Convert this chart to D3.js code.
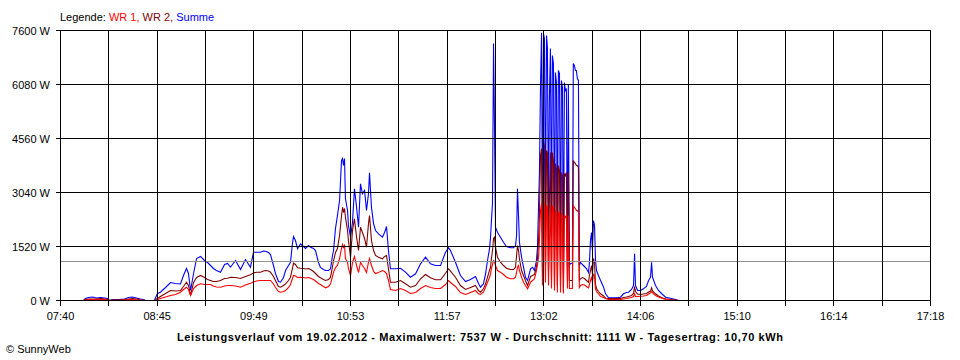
<!DOCTYPE html>
<html><head><meta charset="utf-8">
<script src="https://cdn.jsdelivr.net/npm/d3@7"></script>
<style>
body{margin:0;background:#fff}
svg{display:block}
text{font-family:"Liberation Sans",Arial,sans-serif;font-size:11px;fill:#000}
</style>
</head><body><svg id="c" width="960" height="360"></svg>
<script>
// time in minutes since midnight
const times=[
475.3,476.6,478.6,481.3,483.9,486.6,489.2,491.2,492.6,494.5,
498.5,502.5,505.2,507.8,510.5,513.1,515.1,516.5,522.4,524.4,
526.4,529.8,533.1,536.4,539.7,541.7,543.7,545.0,546.4,548.4,
550.4,553.0,555.7,557.7,559.7,561.6,563.6,566.3,569.0,571.0,
572.9,576.3,579.6,582.9,586.2,588.2,590.2,592.9,594.9,596.2,
598.2,599.5,601.5,602.8,604.8,606.2,608.2,609.5,611.5,612.8,
614.1,614.8,616.1,617.5,619.4,621.4,622.8,624.8,626.1,628.1,
629.4,631.4,632.7,634.7,636.1,638.1,639.4,640.7,641.4,642.7,
644.0,645.4,646.7,647.4,648.0,648.7,649.3,650.7,651.3,652.7,
654.0,655.3,656.7,658.0,659.3,660.6,662.0,663.3,664.6,665.3,
666.6,668.0,669.3,671.3,673.9,675.3,676.6,677.9,679.2,682.6,
685.9,689.2,692.5,695.9,699.2,702.5,705.8,709.1,712.5,715.8,
717.8,719.1,722.4,725.7,729.1,732.4,735.7,737.7,739.0,741.0,
742.4,743.7,745.0,745.7,746.3,747.0,747.7,748.3,749.0,750.3,
752.3,754.3,756.3,759.0,761.0,762.3,763.0,763.6,764.3,764.9,
766.3,767.6,768.9,770.3,772.3,773.6,774.9,776.2,776.9,777.6,
778.2,778.9,779.6,780.2,780.9,781.5,782.2,782.9,783.5,784.2,
784.8,785.5,786.2,786.8,787.5,788.2,788.8,789.5,790.1,790.8,
791.5,792.2,792.8,793.5,794.1,794.8,795.4,796.1,796.8,797.4,
798.1,798.8,799.4,800.1,800.7,801.4,802.1,802.7,803.4,804.1,
804.7,805.5,806.8,808.1,809.4,810.8,811.4,812.1,812.8,813.4,
814.1,814.8,815.4,816.1,817.4,818.8,820.8,822.1,824.1,826.7,
829.4,832.0,834.0,836.0,837.4,839.4,840.7,841.4,842.0,843.4,
845.3,847.3,849.3,850.7,852.0,852.7,853.3,855.3,857.3,860.0,
862.0,865.3,868.6,870.6
];
const summe=[
0,56,84,99,70,84,70,56,0,28,
28,42,84,99,70,42,28,0,0,197,
234,366,507,479,464,704,901,760,281,760,
1182,1239,1126,1070,985,901,844,797,1013,1041,
937,1126,873,1154,937,1360,1360,1360,1393,1388,
1351,1295,985,760,535,515,647,844,985,1078,
1604,1801,1689,1455,1596,1520,1464,1548,1500,1464,
1407,1070,929,873,844,844,892,1267,1407,2027,
2393,2815,3941,3997,3800,3997,2871,2533,2111,1782,
2204,3144,2626,2063,3285,3003,3096,2533,3003,3595,
2626,2159,1970,1877,1782,1914,2083,1407,892,892,
909,797,656,752,1033,1219,1033,985,985,1360,
1483,1407,1078,704,535,591,676,479,374,470,
752,1126,1455,1782,2252,2730,7234,5067,2063,1923,
1782,1641,1520,1483,1483,1548,1830,3144,2394,1641,
1219,937,656,563,892,937,844,1126,1500,2674,
3603,6052,7537,1970,7516,7375,2308,7459,7122,2111,
5630,7093,1830,6896,6671,1548,6418,6136,1407,6474,
6390,1182,6193,5996,788,6136,5911,5967,985,6080,
985,1041,1041,1041,6671,6615,6474,6474,6249,6193,
985,1070,1013,957,901,788,1070,1689,1914,1407,
2252,2111,1182,844,704,563,374,189,76,76,
76,93,189,225,234,310,422,1315,422,281,
281,329,394,563,656,1078,656,422,281,169,
93,65,28,0
];
const wr2=[
0,28,42,42,42,56,42,28,0,14,
14,28,42,56,42,14,8,0,0,56,
113,197,281,267,281,394,515,422,141,507,
647,704,647,591,563,535,535,563,619,628,
656,647,619,676,723,774,797,797,830,844,
830,797,676,563,394,374,422,470,563,656,
901,1050,1013,920,909,901,887,901,873,816,
760,676,639,591,563,591,656,957,1126,1351,
1464,1830,2393,2626,2477,2590,2345,1970,1689,1219,
1970,2300,1782,1407,2063,1914,1745,1500,2159,2393,
1689,1407,1267,1219,1174,1239,1267,892,515,515,
563,470,374,422,611,732,639,583,583,768,
892,825,656,422,310,366,422,281,234,329,
470,656,844,937,1182,1407,1745,1782,1500,1219,
1078,985,909,873,873,937,1267,1548,1407,1174,
844,704,563,422,676,704,732,937,1182,1689,
2393,4081,4278,844,4504,4363,985,4222,4166,844,
2815,4166,563,4166,3941,422,3856,3716,422,3800,
3659,422,3603,3519,281,3575,3519,3603,563,3603,
563,563,563,563,3941,3884,3856,3800,3800,3744,
563,611,647,619,563,515,704,844,985,752,
1182,1070,470,338,253,189,127,65,56,56,
56,56,84,99,113,141,197,394,253,183,
169,183,197,239,262,357,267,189,127,70,
48,28,14,0
];
const wr1=[
0,14,28,28,28,28,28,14,0,8,
8,14,28,28,23,8,6,0,0,28,
56,99,141,169,234,310,374,310,141,338,
422,470,450,450,450,408,380,374,408,422,
422,408,374,436,487,521,549,563,563,563,
563,563,464,374,253,234,253,281,366,450,
619,704,690,647,656,647,633,647,628,591,
549,479,450,394,357,394,470,676,797,929,
985,1182,1464,1576,1492,1548,1182,1070,901,704,
1070,1239,985,788,1070,985,901,788,1070,1182,
985,816,760,788,844,816,760,563,310,281,
338,281,197,225,338,422,366,338,338,450,
563,507,394,225,169,225,281,189,169,234,
374,515,647,752,901,1013,1126,1098,985,844,
797,732,656,611,611,656,788,937,985,844,
656,515,422,329,515,563,611,844,1013,1210,
1689,2533,2730,422,2815,2674,507,2674,2618,422,
1689,2674,338,2674,2590,281,2533,2477,225,2477,
2449,225,2421,2393,197,2393,2336,2393,338,2393,
338,338,338,338,2674,2618,2590,2533,2533,2477,
366,422,450,436,394,357,450,563,647,507,
752,676,329,253,189,113,84,56,28,28,
28,28,42,56,70,84,113,189,113,113,
121,127,141,183,217,253,211,141,99,56,
28,14,8,0
];
const yTicks=[0,1520,3040,4560,6080,7600];
const xTickLabels=["07:40","08:45","09:49","10:53","11:57","13:02","14:06","15:10","16:14","17:18"];
const timeStart=460, timeEnd=1038, xDivisions=18;
const average=1111;
const seriesNames=["WR 1","WR 2","Summe"];
const seriesColors=["#ff0000","#800000","#0000ff"];
const title="Leistungsverlauf vom 19.02.2012 - Maximalwert: 7537 W - Durchschnitt: 1111 W - Tagesertrag: 10,70 kWh";
const credit="\u00A9 SunnyWeb";

const svg=d3.select("#c");
const x=d3.scaleLinear().domain([timeStart,timeEnd]).range([60.5,930.5]);
const y=d3.scaleLinear().domain([0,7600]).range([300.5,30.5]);

// data lines: Summe first, then WR 2, then WR 1 on top
const data=[wr1,wr2,summe];
const line=d3.line().x((d,i)=>x(times[i])).y(d=>y(d));
[2,1,0].forEach(k=>{
  svg.append("path").datum(data[k]).attr("d",line)
    .attr("fill","none").attr("stroke",seriesColors[k]).attr("stroke-width",1.1);
});

// average line
svg.append("line").attr("x1",x(timeStart)).attr("x2",x(timeEnd))
  .attr("y1",Math.round(y(average))+0.5).attr("y2",Math.round(y(average))+0.5)
  .attr("stroke","#909090").attr("stroke-width",1).attr("shape-rendering","crispEdges");

// grid
const vTimes=d3.range(xDivisions+1).map(i=>timeStart+i*(timeEnd-timeStart)/xDivisions);
const g=svg.append("g").attr("shape-rendering","crispEdges");
g.selectAll("line.v").data(vTimes).join("line")
  .attr("x1",d=>Math.round(x(d)-0.5)+0.5).attr("x2",d=>Math.round(x(d)-0.5)+0.5)
  .attr("y1",y(7600)).attr("y2",y(0)+5).attr("stroke","#000");
g.selectAll("line.h").data(yTicks).join("line")
  .attr("x1",x(timeStart)-5).attr("x2",x(timeEnd))
  .attr("y1",d=>y(d)).attr("y2",d=>y(d)).attr("stroke","#000");

// labels
svg.selectAll("text.yl").data(yTicks).join("text")
  .attr("x",50).attr("y",d=>y(d)+4).attr("text-anchor","end")
  .text(d=>d+" W");
svg.selectAll("text.xl").data(xTickLabels).join("text")
  .attr("x",(d,i)=>x(vTimes[i*2])).attr("y",320).attr("text-anchor","middle")
  .text(d=>d);

// legend
const lg=svg.append("text").attr("x",60).attr("y",21);
lg.append("tspan").text("Legende: ");
seriesNames.forEach((n,i)=>{
  lg.append("tspan").attr("fill",seriesColors[i]).style("fill",seriesColors[i])
    .text(n+(i<seriesNames.length-1?", ":""));
});

svg.append("text").attr("x",480).attr("y",341).attr("text-anchor","middle")
  .style("font-weight","bold").attr("textLength",606).attr("lengthAdjust","spacing")
  .text(title);
svg.append("text").attr("x",6).attr("y",353).text(credit);
</script>
</body></html>
